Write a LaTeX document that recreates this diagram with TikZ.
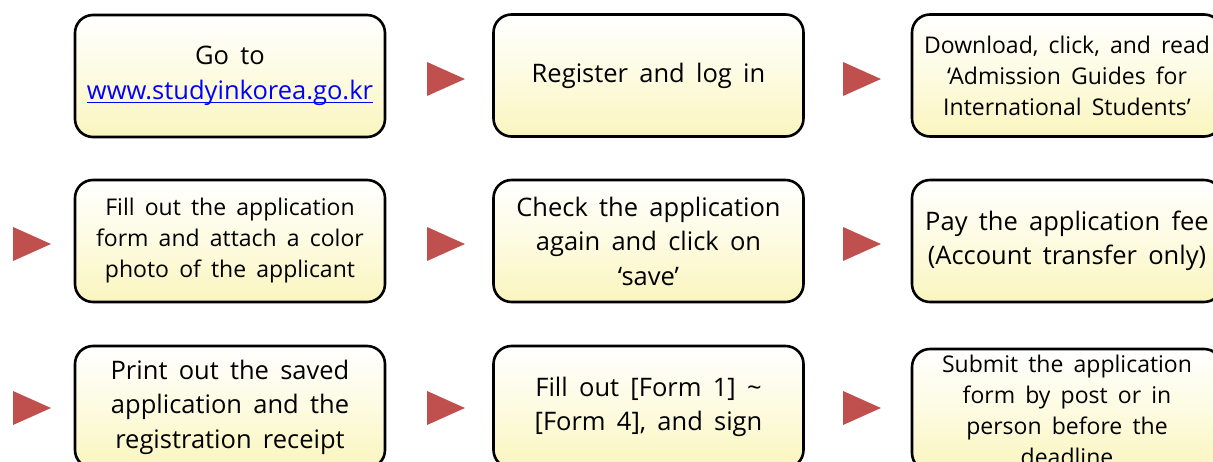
\documentclass[tikz,border=0pt]{standalone}
\usepackage{fontspec}
\setmainfont[WordSpace=1.7]{Open Sans}
\definecolor{boxyellow}{RGB}{250,245,190}
\definecolor{boxmid}{RGB}{253,251,225}
\definecolor{arrowred}{RGB}{192,80,77}
\definecolor{linkblue}{RGB}{0,0,255}
\newcommand\linkul[1]{\setbox0\hbox{#1}\rlap{\rule[-3.5pt]{\wd0}{1.4pt}}\box0}
\begin{document}
\begin{tikzpicture}[x=1pt,y=-1pt,
  stepbox/.style={draw=black, line width=2.6pt, rounded corners=18pt,
    minimum width=310pt, minimum height=122pt, inner sep=0pt,
    top color=white, bottom color=boxyellow, middle color=boxmid,
    align=center, font=\fontsize{25.5}{34.5}\selectfont},
  smalltext/.style={font=\fontsize{23}{31}\selectfont},
  pointer/.style={fill=arrowred, draw=none}]
\useasboundingbox (0,0) rectangle (1213,462);
\clip (0,0) rectangle (1213,462);
% row 1
\node[stepbox] (b1) at (230,76) {Go to\\\textcolor{linkblue}{\linkul{www.studyinkorea.go.kr}}};
\node[stepbox] (b2) at (648.5,75.5) {Register and log in};
\node[stepbox, smalltext] (b3) at (1067,75.5) {Download, click, and read\\‘Admission Guides for\\International Students’};
% row 2
\node[stepbox, smalltext] (b4) at (230,241) {Fill out the application\\form and attach a color\\photo of the applicant};
\node[stepbox] (b5) at (648.5,241) {Check the application\\again and click on\\‘save’};
\node[stepbox] (b6) at (1067,241) {Pay the application fee\\(Account transfer only)};
% row 3
\node[stepbox] (b7) at (230,407) {Print out the saved\\application and the\\registration receipt};
\node[stepbox] (b8) at (648.5,407) {Fill out [Form 1] \textasciitilde\\[0pt][Form 4], and sign};
\node[stepbox, smalltext] (b9) at (1067,410) {Submit the application\\form by post or in\\person before the\\deadline};
% pointers
\fill[pointer] (427,62) -- (465,79) -- (427,96) -- cycle;
\fill[pointer] (843,62) -- (881,79) -- (843,96) -- cycle;
\fill[pointer] (13,227) -- (51,244) -- (13,261) -- cycle;
\fill[pointer] (427,227) -- (465,244) -- (427,261) -- cycle;
\fill[pointer] (843,227) -- (881,244) -- (843,261) -- cycle;
\fill[pointer] (13,391) -- (51,408) -- (13,425) -- cycle;
\fill[pointer] (427,391) -- (465,408) -- (427,425) -- cycle;
\fill[pointer] (843,391) -- (881,408) -- (843,425) -- cycle;
\end{tikzpicture}
\end{document}
